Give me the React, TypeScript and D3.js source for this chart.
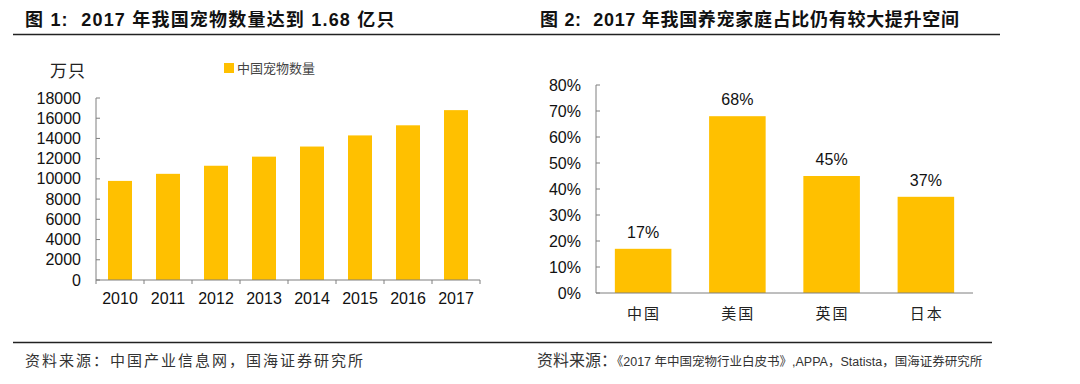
import React from 'react'
import * as d3 from 'd3'

const years = ['2010', '2011', '2012', '2013', '2014', '2015', '2016', '2017']
const petCounts = [9800, 10500, 11300, 12200, 13200, 14300, 15300, 16800]
const countTicks = [0, 2000, 4000, 6000, 8000, 10000, 12000, 14000, 16000, 18000]

const countries = ['中国', '美国', '英国', '日本']
const petShare = [17, 68, 45, 37]
const shareTicks = [0, 10, 20, 30, 40, 50, 60, 70, 80]

const BAR = '#FFC000'
const AXIS = '#7f7f7f'
const NUM_FONT = '"Liberation Sans", Arial, sans-serif'
const MIX_FONT = '"Liberation Sans", "Noto Sans CJK SC", sans-serif'
const CJK_FONT = '"Noto Sans CJK SC", sans-serif'

function LeftChart() {
  const x = d3.scaleBand<string>().domain(years).range([96, 480]).paddingInner(0.5).paddingOuter(0.25)
  const y = d3.scaleLinear().domain([0, 18000]).range([280, 98])
  const step = x.step()
  return (
    <g>
      <text x={50} y={77} fontFamily={CJK_FONT} fontSize={17} letterSpacing={1} fill="#222">万只</text>
      <rect x={224} y={63} width={10} height={10} fill={BAR} />
      <text x={237} y={73} fontFamily={CJK_FONT} fontSize={13} fill="#444">中国宠物数量</text>

      {years.map((yr, i) => (
        <rect key={yr} x={x(yr)} y={y(petCounts[i])} width={x.bandwidth()} height={y(0) - y(petCounts[i])} fill={BAR} />
      ))}

      <line x1={96} x2={96} y1={y(18000)} y2={y(0)} stroke={AXIS} />
      {countTicks.map((t) => (
        <g key={t}>
          <line x1={96} x2={100} y1={y(t)} y2={y(t)} stroke={AXIS} />
          <text x={81} y={y(t) + 5.5} textAnchor="end" fontFamily={NUM_FONT} fontSize={16} fill="#111">{t}</text>
        </g>
      ))}
      <line x1={96} x2={480} y1={y(0)} y2={y(0)} stroke={AXIS} />
      {d3.range(years.length + 1).map((i) => (
        <line key={i} x1={96 + i * step} x2={96 + i * step} y1={y(0)} y2={y(0) + 4} stroke={AXIS} />
      ))}
      {years.map((yr) => (
        <text key={yr} x={(x(yr) ?? 0) + x.bandwidth() / 2} y={304} textAnchor="middle" fontFamily={NUM_FONT} fontSize={16} fill="#111">{yr}</text>
      ))}
    </g>
  )
}

function RightChart() {
  const x = d3.scaleBand<string>().domain(countries).range([596, 973]).paddingInner(0.4).paddingOuter(0.2)
  const y = d3.scaleLinear().domain([0, 80]).range([293, 85])
  return (
    <g>
      {countries.map((c, i) => (
        <g key={c}>
          <rect x={x(c)} y={y(petShare[i])} width={x.bandwidth()} height={y(0) - y(petShare[i])} fill={BAR} />
          <text x={(x(c) ?? 0) + x.bandwidth() / 2} y={y(petShare[i]) - 11} textAnchor="middle" fontFamily={NUM_FONT} fontSize={16} fill="#111">{petShare[i]}%</text>
          <text x={(x(c) ?? 0) + x.bandwidth() / 2 + 1} y={319} textAnchor="middle" fontFamily={CJK_FONT} fontSize={15} letterSpacing={2} fill="#222">{c}</text>
        </g>
      ))}
      <line x1={596} x2={596} y1={y(80)} y2={y(0)} stroke={AXIS} />
      {shareTicks.map((t) => (
        <g key={t}>
          <line x1={596} x2={600} y1={y(t)} y2={y(t)} stroke={AXIS} />
          <text x={581} y={y(t) + 5.5} textAnchor="end" fontFamily={NUM_FONT} fontSize={16} fill="#111">{t}%</text>
        </g>
      ))}
      <line x1={596} x2={973} y1={y(0)} y2={y(0)} stroke={AXIS} />
    </g>
  )
}

export default function App() {
  return (
    <div style={{ position: 'absolute', left: 0, top: 0 }}>
      <svg width={1080} height={384} viewBox="0 0 1080 384" style={{ display: 'block', background: '#fff' }}>
        <text x={25} y={26} fontFamily={MIX_FONT} fontSize={18} letterSpacing={1.2} fontWeight="bold" fill="#111" style={{ whiteSpace: 'pre' }}>
          图 1:  2017 年我国宠物数量达到 1.68 亿只
        </text>
        <text x={540} y={26} fontFamily={MIX_FONT} fontSize={18} letterSpacing={0.7} fontWeight="bold" fill="#111" style={{ whiteSpace: 'pre' }}>
          图 2:  2017 年我国养宠家庭占比仍有较大提升空间
        </text>
        <line x1={13} x2={1000} y1={34.5} y2={34.5} stroke="#222" strokeWidth={1.5} />

        <LeftChart />
        <RightChart />

        <line x1={13} x2={992} y1={342.5} y2={342.5} stroke="#222" strokeWidth={1.5} />
        <text x={25} y={366} fontFamily={CJK_FONT} fontSize={15} letterSpacing={2} fill="#333">
          资料来源：中国产业信息网，国海证券研究所
        </text>
        <text x={537} y={366} fontFamily={MIX_FONT} fill="#333">
          <tspan fontFamily={CJK_FONT} fontSize={16}>资料来源：</tspan>
          <tspan fontSize={12.5}>《2017 年中国宠物行业白皮书》,APPA，Statista，国海证券研究所</tspan>
        </text>
      </svg>
    </div>
  )
}
